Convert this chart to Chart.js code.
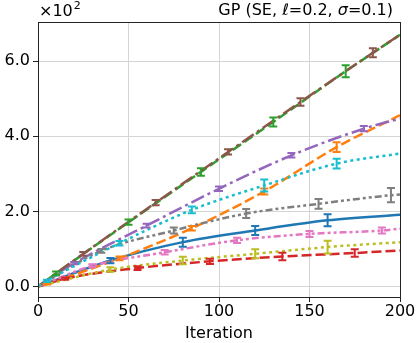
<!DOCTYPE html>
<html>
<head>
<meta charset="utf-8">
<script src="https://cdn.jsdelivr.net/npm/chart.js@4"></script>
<style>
  html, body { margin: 0; padding: 0; background: #fff; }
  #wrap { width: 419px; height: 343px; }
</style>
</head>
<body>
<div id="wrap"><canvas id="chart" width="419" height="343"></canvas></div>
<script>
// values in units of 1e2
const xTicks = [0, 50, 100, 150, 200];
const yTicks = [0, 2, 4, 6];

const blueX = [0, 40, 80, 120, 160, 200];
const blueY = [0, 0.69, 1.18, 1.49, 1.76, 1.91];
const blueErr = [null, 0.07, 0.12, 0.12, 0.16, null];

const orangeX = [0, 5, 45, 85, 125, 165, 200];
const orangeY = [0, 0.07, 0.75, 1.55, 2.53, 3.71, 4.56];
const orangeErr = [null, 0.02, 0.05, 0.06, 0.08, 0.13, null];

const greenX = [0, 10, 50, 90, 130, 170, 200];
const greenY = [0, 0.35, 1.71, 3.05, 4.38, 5.73, 6.70];
const greenErr = [null, 0.05, 0.07, 0.1, 0.12, 0.16, null];

const redX = [0, 15, 55, 95, 135, 175, 200];
const redY = [0, 0.21, 0.49, 0.67, 0.80, 0.89, 0.96];
const redErr = [null, 0.03, 0.05, 0.07, 0.1, 0.1, null];

const purpleX = [0, 20, 60, 100, 140, 180, 200];
const purpleY = [0, 0.62, 1.62, 2.60, 3.49, 4.20, 4.47];
const purpleErr = [null, 0.03, 0.05, 0.06, 0.06, 0.07, null];

const brownX = [0, 25, 65, 105, 145, 185, 200];
const brownY = [0, 0.87, 2.23, 3.58, 4.91, 6.22, 6.70];
const brownErr = [null, 0.05, 0.07, 0.07, 0.1, 0.12, null];

const pinkX = [0, 30, 70, 110, 150, 190, 200];
const pinkY = [0, 0.55, 0.91, 1.23, 1.40, 1.49, 1.54];
const pinkErr = [null, 0.04, 0.06, 0.07, 0.08, 0.08, null];

const grayX = [0, 35, 75, 115, 155, 195, 200];
const grayY = [0, 0.95, 1.49, 1.94, 2.20, 2.43, 2.45];
const grayErr = [null, 0.05, 0.08, 0.12, 0.13, 0.19, null];

const oliveX = [0, 40, 80, 120, 160, 200];
const oliveY = [0, 0.45, 0.69, 0.87, 1.05, 1.18];
const oliveErr = [null, 0.06, 0.1, 0.12, 0.17, null];

const cyanX = [0, 5, 45, 85, 125, 165, 200];
const cyanY = [0, 0.15, 1.15, 2.04, 2.69, 3.27, 3.54];
const cyanErr = [null, 0.03, 0.06, 0.09, 0.16, 0.13, null];

const series = [
  { x: blueX, y: blueY, err: blueErr, color: '#1f77b4', dash: [] },
  { x: orangeX, y: orangeY, err: orangeErr, color: '#ff7f0e', dash: [10, 4] },
  { x: greenX, y: greenY, err: greenErr, color: '#2ca02c', dash: [10, 4] },
  { x: redX, y: redY, err: redErr, color: '#d62728', dash: [10, 4] },
  { x: purpleX, y: purpleY, err: purpleErr, color: '#9467bd', dash: [14, 4, 3, 4] },
  { x: brownX, y: brownY, err: brownErr, color: '#8c564b', dash: [14, 4, 3, 4] },
  { x: pinkX, y: pinkY, err: pinkErr, color: '#e377c2', dash: [7, 3, 3, 3, 3, 3] },
  { x: grayX, y: grayY, err: grayErr, color: '#7f7f7f', dash: [7, 3, 3, 3, 3, 3] },
  { x: oliveX, y: oliveY, err: oliveErr, color: '#bcbd22', dash: [3, 3.5] },
  { x: cyanX, y: cyanY, err: cyanErr, color: '#17becf', dash: [3, 3.5] }
];

const FONT = "'DejaVu Sans', sans-serif";

const errorBars = {
  id: 'errorBars',
  afterDatasetsDraw(chart) {
    const { ctx, scales: { x, y } } = chart;
    ctx.save();
    ctx.lineWidth = 2;
    series.forEach(s => {
      ctx.strokeStyle = s.color;
      s.err.forEach((e, i) => {
        if (e == null) return;
        const px = x.getPixelForValue(s.x[i]);
        const top = y.getPixelForValue(s.y[i] + e);
        const bot = y.getPixelForValue(s.y[i] - e);
        ctx.beginPath();
        ctx.moveTo(px, top); ctx.lineTo(px, bot);
        ctx.moveTo(px - 4, top); ctx.lineTo(px + 4, top);
        ctx.moveTo(px - 4, bot); ctx.lineTo(px + 4, bot);
        ctx.stroke();
      });
    });
    ctx.restore();
  }
};

// title pieces: [text, italic]
const titleParts = [['GP (SE, ', false], ['\u2113', true], ['=0.2, ', false], ['\u03c3', true], ['=0.1)', false]];

const frameAndText = {
  id: 'frameAndText',
  afterDraw(chart) {
    const { ctx, chartArea: a } = chart;
    ctx.save();
    ctx.strokeStyle = '#222';
    ctx.lineWidth = 1;
    ctx.strokeRect(Math.round(a.left) + 0.5, Math.round(a.top) + 0.5, Math.round(a.right - a.left), Math.round(a.bottom - a.top));
    ctx.fillStyle = '#000';
    ctx.textBaseline = 'alphabetic';
    ctx.textAlign = 'left';
    const fontOf = it => (it ? 'italic ' : '') + '16px ' + FONT;
    let total = 0;
    titleParts.forEach(([t, it]) => { ctx.font = fontOf(it); total += ctx.measureText(t).width; });
    let tx = 393 - total;
    titleParts.forEach(([t, it]) => { ctx.font = fontOf(it); ctx.fillText(t, tx, 15); tx += ctx.measureText(t).width; });
    ctx.font = '16px ' + FONT;
    ctx.fillText('\u00d710', 39, 16);
    const w = ctx.measureText('\u00d710').width;
    ctx.font = '11px ' + FONT;
    ctx.fillText('2', 39 + w + 1, 9);
    ctx.restore();
  }
};

new Chart(document.getElementById('chart'), {
  type: 'line',
  data: {
    datasets: series.map((s, i) => ({
      data: s.x.map((xv, j) => ({ x: xv, y: s.y[j] })),
      borderColor: s.color,
      borderDash: s.dash,
      borderWidth: 2.5,
      pointRadius: 0,
      fill: false,
      cubicInterpolationMode: 'monotone',
      order: series.length - i
    }))
  },
  options: {
    responsive: false,
    animation: false,
    layout: { padding: { top: 22, right: 19, left: 0, bottom: 0 } },
    plugins: { legend: { display: false }, tooltip: { enabled: false } },
    scales: {
      x: {
        type: 'linear',
        min: 0, max: 200,
        afterBuildTicks: ax => { ax.ticks = xTicks.map(v => ({ value: v })); },
        afterFit: ax => { ax.height = 46; },
        ticks: { color: '#000', font: { family: FONT, size: 16 }, padding: 0, maxRotation: 0 },
        grid: { color: '#d4d4d4', tickColor: '#222', tickLength: 5, lineWidth: 1 },
        border: { display: false },
        title: { display: true, text: 'Iteration', color: '#000', font: { family: FONT, size: 16 }, padding: { top: 0, bottom: 0 } }
      },
      y: {
        type: 'linear',
        min: -0.28, max: 7.04,
        afterBuildTicks: ax => { ax.ticks = yTicks.map(v => ({ value: v })); },
        afterFit: ax => { ax.width = 38; },
        ticks: { color: '#000', font: { family: FONT, size: 16 }, padding: 3, callback: v => v.toFixed(1) },
        grid: { color: '#d4d4d4', tickColor: '#222', tickLength: 5, lineWidth: 1 },
        border: { display: false }
      }
    }
  },
  plugins: [errorBars, frameAndText]
});
</script>
</body>
</html>
